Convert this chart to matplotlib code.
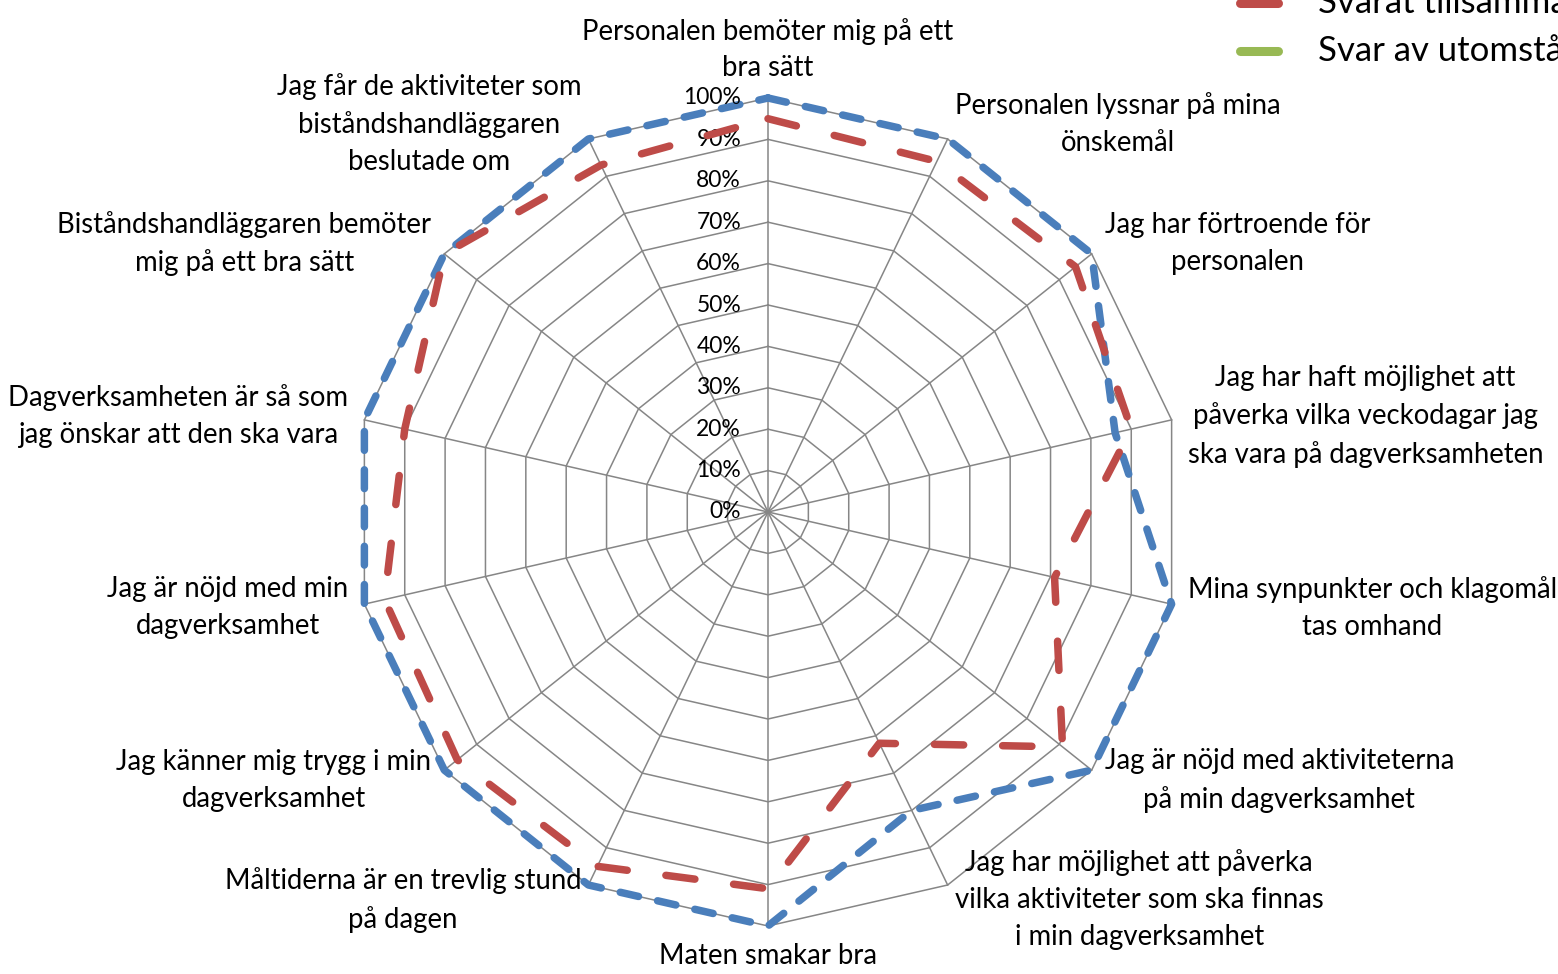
# radar chart: nöjdhet dagverksamhet
import numpy as np
import matplotlib.pyplot as plt
from matplotlib.lines import Line2D

plt.rcParams['font.family'] = ['Lato', 'DejaVu Sans']

# Data
categories = [
    "Personalen bemöter mig på ett\nbra sätt",
    "Personalen lyssnar på mina\nönskemål",
    "Jag har förtroende för\npersonalen",
    "Jag har haft möjlighet att\npåverka vilka veckodagar jag\nska vara på dagverksamheten",
    "Mina synpunkter och klagomål\ntas omhand",
    "Jag är nöjd med aktiviteterna\npå min dagverksamhet",
    "Jag har möjlighet att påverka\nvilka aktiviteter som ska finnas\ni min dagverksamhet",
    "Maten smakar bra",
    "Måltiderna är en trevlig stund\npå dagen",
    "Jag känner mig trygg i min\ndagverksamhet",
    "Jag är nöjd med min\ndagverksamhet",
    "Dagverksamheten är så som\njag önskar att den ska vara",
    "Biståndshandläggaren bemöter\nmig på ett bra sätt",
    "Jag får de aktiviteter som\nbiståndshandläggaren\nbeslutade om",
]
svarat_sjalv = [100, 100, 100, 86, 100, 100, 80, 100, 100, 100, 100, 100, 100, 100]
svarat_tillsammans = [95, 94, 95, 90, 71, 91, 62, 91, 95, 96, 95, 90, 100, 93]
levels = [0, 10, 20, 30, 40, 50, 60, 70, 80, 90, 100]
legend_labels = ["Svarat tillsammans med någon", "Svar av utomstående"]

BLUE = '#4a7ebb'
RED = '#be4b48'
GREEN = '#98b954'
GRID = '#868686'

fig = plt.figure(figsize=(15.58, 9.74), dpi=100)
ax = fig.add_axes([354 / 1558, 48 / 974, 828 / 1558, 828 / 974])
ax.set_xlim(-100, 100)
ax.set_ylim(-100, 100)
ax.axis('off')

n = len(categories)
theta = np.arange(n) * 2 * np.pi / n
sx, sy = np.sin(theta), np.cos(theta)
cx, cy = np.append(sx, sx[0]), np.append(sy, sy[0])

# polygon grid + spokes
for lvl in levels[1:]:
    ax.plot(cx * lvl, cy * lvl, color=GRID, lw=1.1, zorder=1)
for i in range(n):
    ax.plot([0, sx[i] * levels[-1]], [0, sy[i] * levels[-1]], color=GRID, lw=1.1, zorder=1)

# series
def closed(vals):
    v = np.append(vals, vals[0])
    return cx * v, cy * v

x, y = closed(svarat_sjalv)
ax.plot(x, y, color=BLUE, lw=5.4, dashes=(2.5, 2.6), dash_capstyle='round',
        dash_joinstyle='round', zorder=3, clip_on=False)
x, y = closed(svarat_tillsammans)
ax.plot(x, y, color=RED, lw=5.4, dashes=(3.9, 5.2), dash_capstyle='round',
        dash_joinstyle='round', zorder=4, clip_on=False)

# category labels
for i, lab in enumerate(categories):
    r = 104
    if sx[i] > 0.1:
        ha = 'left'
    elif sx[i] < -0.1:
        ha = 'right'
    else:
        ha = 'center'
    va = 'center'
    if i == 0:
        va = 'bottom'
    elif sy[i] < -0.99:
        va = 'top'
    ax.text(sx[i] * r, sy[i] * r, lab, ha=ha, va=va, multialignment='center',
            fontsize=19.8, linespacing=1.52, color='black')

# radial tick labels
for lvl in levels:
    ax.text(-6.5, lvl, f"{lvl}%", ha='right', va='center', fontsize=16.5, color='black')

# legend (cut at the figure edge like the original)
for j, (col, lab) in enumerate(zip([RED, GREEN], legend_labels)):
    yy = 1 - (3 + 48 * j) / 974
    fig.add_artist(Line2D([1240 / 1558, 1278 / 1558], [yy, yy], transform=fig.transFigure,
                          color=col, lw=6.5, solid_capstyle='round'))
    fig.text(1318 / 1558, yy, lab, ha='left', va='center', fontsize=25, color='black')

fig.savefig("out.png", dpi=100)
